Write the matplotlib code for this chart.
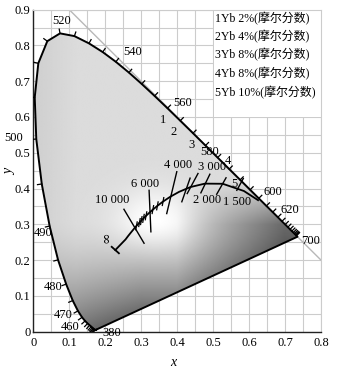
import numpy as np
import matplotlib.pyplot as plt
from matplotlib.patches import Polygon, Rectangle

plt.rcParams['font.family'] = ['Liberation Serif', 'Noto Sans CJK SC']

# CIE 1931 spectral locus, 5 nm steps
wl = list(range(380, 705, 5))
locus_x = [0.1741, 0.1740, 0.1738, 0.1736, 0.1733, 0.1730, 0.1726, 0.1721, 0.1714, 0.1703,
           0.1689, 0.1669, 0.1644, 0.1611, 0.1566, 0.1510, 0.1440, 0.1355, 0.1241, 0.1096,
           0.0913, 0.0687, 0.0454, 0.0235, 0.0082, 0.0039, 0.0139, 0.0389, 0.0743, 0.1142,
           0.1547, 0.1929, 0.2296, 0.2658, 0.3016, 0.3373, 0.3731, 0.4087, 0.4441, 0.4788,
           0.5125, 0.5448, 0.5752, 0.6029, 0.6270, 0.6482, 0.6658, 0.6801, 0.6915, 0.7006,
           0.7079, 0.7140, 0.7190, 0.7230, 0.7260, 0.7283, 0.7300, 0.7311, 0.7320, 0.7327,
           0.7334, 0.7340, 0.7344, 0.7346, 0.7347]
locus_y = [0.0050, 0.0050, 0.0049, 0.0049, 0.0048, 0.0048, 0.0048, 0.0048, 0.0051, 0.0058,
           0.0069, 0.0086, 0.0109, 0.0138, 0.0177, 0.0227, 0.0297, 0.0399, 0.0578, 0.0868,
           0.1327, 0.2007, 0.2950, 0.4127, 0.5384, 0.6548, 0.7502, 0.8120, 0.8338, 0.8262,
           0.8059, 0.7816, 0.7543, 0.7243, 0.6923, 0.6589, 0.6245, 0.5896, 0.5547, 0.5202,
           0.4866, 0.4544, 0.4242, 0.3965, 0.3725, 0.3514, 0.3340, 0.3197, 0.3083, 0.2993,
           0.2920, 0.2859, 0.2809, 0.2770, 0.2740, 0.2717, 0.2700, 0.2689, 0.2680, 0.2673,
           0.2666, 0.2660, 0.2656, 0.2654, 0.2653]

wl_labels = ['380', '460', '470', '480', '490', '500', '520', '540', '560', '580', '600', '620', '700']
wl_label_x = [0.219, 0.102, 0.083, 0.055, 0.027, -0.056, 0.080, 0.275, 0.416, 0.491, 0.667, 0.714, 0.770]
wl_label_y = [-0.004, 0.013, 0.046, 0.124, 0.275, 0.541, 0.868, 0.781, 0.639, 0.502, 0.390, 0.339, 0.253]

# Planckian locus
planck_T = [1200, 1500, 2000, 2500, 3000, 3500, 4000, 4500, 5000, 5500, 6000, 6500, 7000,
            7500, 8000, 9000, 10000, 12000, 15000, 20000, 'inf']
planck_x = [0.6251, 0.5857, 0.5267, 0.4770, 0.4369, 0.4053, 0.3805, 0.3608, 0.3451, 0.3325,
            0.3221, 0.3135, 0.3064, 0.3003, 0.2952, 0.2869, 0.2807, 0.2719, 0.2637, 0.2565, 0.2280]
planck_y = [0.3674, 0.3931, 0.4133, 0.4137, 0.4041, 0.3907, 0.3768, 0.3636, 0.3516, 0.3411,
            0.3318, 0.3237, 0.3166, 0.3103, 0.3048, 0.2956, 0.2883, 0.2776, 0.2673, 0.2577, 0.2280]

# long isotemperature lines (top end, bottom end)
iso_x0 = [0.252, 0.322, 0.399, 0.436, 0.458, 0.491, 0.536, 0.584]
iso_y0 = [0.342, 0.395, 0.447, 0.429, 0.442, 0.440, 0.430, 0.428]
iso_x1 = [0.308, 0.327, 0.371, 0.413, 0.428, 0.466, 0.510, 0.566]
iso_y1 = [0.247, 0.279, 0.330, 0.363, 0.386, 0.388, 0.384, 0.395]

# short ticks on the locus
short_T = [9000, 8000, 7500, 7000, 6500, 5500, 5000, 4500]

# end cap at infinity
cap_x = [0.218, 0.238]
cap_y = [0.237, 0.219]

temp_labels = ['10 000', '6 000', '4 000', '3 000', '2 000', '1 500']
temp_label_x = [0.218, 0.311, 0.403, 0.496, 0.482, 0.566]
temp_label_y = [0.369, 0.414, 0.467, 0.461, 0.368, 0.363]

sample_labels = ['1', '2', '3', '4', '5']
sample_x = [0.362, 0.389, 0.440, 0.540, 0.558]
sample_y = [0.591, 0.558, 0.521, 0.477, 0.412]

legend_lines = ['1Yb 2%(摩尔分数)', '2Yb 4%(摩尔分数)', '3Yb 8%(摩尔分数)',
                '4Yb 8%(摩尔分数)', '5Yb 10%(摩尔分数)']
legend_y = [0.876, 0.825, 0.775, 0.722, 0.669]

fig = plt.figure(figsize=(3.4, 3.73), dpi=100)
ax = fig.add_axes([0.098, 0.111, 0.846, 0.863])
ax.set_xlim(0, 0.8)
ax.set_ylim(0, 0.9)

# grid
ax.set_xticks(np.arange(0, 0.81, 0.1))
ax.set_yticks(np.arange(0, 0.91, 0.1))
ax.set_xticks(np.arange(0.05, 0.8, 0.1), minor=True)
ax.set_yticks(np.arange(0.05, 0.9, 0.1), minor=True)
ax.grid(True, which='both', color='#cccccc', lw=0.8, zorder=0)
ax.set_axisbelow(True)
ax.set_xticklabels(['0', '0.1', '0.2', '0.3', '0.4', '0.5', '0.6', '0.7', '0.8'])
ax.set_yticklabels(['0', '0.1', '0.2', '0.3', '0.4', '0.5', '0.6', '0.7', '0.8', '0.9'])
ax.tick_params(which='both', length=0, labelsize=9, pad=4)
ax.tick_params(axis='y', pad=2)
for s in ['top', 'right']:
    ax.spines[s].set_color('#cccccc')
for s in ['left', 'bottom']:
    ax.spines[s].set_color('#222222')
    ax.spines[s].set_linewidth(1.0)

# gray shading inside the locus: pale centre, light top, darker towards the bottom/right
gx = np.linspace(0, 0.8, 400)
gy = np.linspace(0, 0.9, 450)
X, Y = np.meshgrid(gx, gy)
d = np.hypot(X - 0.34, (Y - 0.31) / 0.8)
base = 0.86 + 0.14 * np.exp(-(d / 0.11) ** 2) - 0.05 * np.clip((0.12 - X) / 0.12, 0, 1)
low = np.clip((0.31 - Y) / 0.31, 0, 1) ** 1.5
amp = 0.3 + 0.3 * np.clip(X / 0.3, 0, 1)
rd = np.clip((X - 0.4) / 0.3, 0, 1) * np.clip((0.42 - Y) / 0.12, 0, 1)
gray = np.clip(base - amp * low - 0.45 * rd, 0, 1)
im = ax.imshow(gray, cmap='gray', vmin=0, vmax=1, extent=(0, 0.8, 0, 0.9), origin='lower',
               aspect='auto', interpolation='bilinear', zorder=1)
poly = Polygon(np.column_stack([locus_x, locus_y]), closed=True, transform=ax.transData)
im.set_clip_path(poly)

# x + y = 1 line
ax.plot([0.1, 0.8], [0.9, 0.2], color='#b8b8b8', lw=1.0, zorder=2)

# legend box
ax.add_patch(Rectangle((0.503, 0.6), 0.296, 0.299, facecolor='white', edgecolor='none', zorder=1.5))

# spectral locus
lx = np.array(locus_x + [locus_x[0]])
ly = np.array(locus_y + [locus_y[0]])
ax.plot(lx, ly, color='black', lw=1.4, zorder=4, solid_joinstyle='round')

# wavelength ticks
px = np.array(locus_x)
py = np.array(locus_y)
tx = np.gradient(px)
ty = np.gradient(py)
nrm = np.hypot(tx, ty)
for i in range(len(wl)):
    if nrm[i] < 1e-3:
        continue
    nx, ny = ty[i] / nrm[i], -tx[i] / nrm[i]
    if nx * (px[i] - 0.33) + ny * (py[i] - 0.33) < 0:
        nx, ny = -nx, -ny
    L = 0.012
    ax.plot([px[i], px[i] + nx * L], [py[i], py[i] + ny * L], color='black', lw=0.9, zorder=4)

for t, x, y in zip(wl_labels, wl_label_x, wl_label_y):
    ax.text(x, y, t, fontsize=9, ha='center', va='center', zorder=6, clip_on=False)

# Planckian locus
ax.plot(planck_x, planck_y, color='black', lw=1.3, zorder=5)
ax.plot(cap_x, cap_y, color='black', lw=1.3, zorder=5)
for x0, y0, x1, y1 in zip(iso_x0, iso_y0, iso_x1, iso_y1):
    ax.plot([x0, x1], [y0, y1], color='black', lw=1.0, zorder=5)
for T in short_T:
    k = planck_T.index(T)
    ax.plot([planck_x[k] + 0.002, planck_x[k] - 0.002], [planck_y[k] + 0.011, planck_y[k] - 0.011],
            color='black', lw=0.9, zorder=5)

for t, x, y in zip(temp_labels, temp_label_x, temp_label_y):
    ax.text(x, y, t, fontsize=9, ha='center', va='center', zorder=6)
ax.text(0.204, 0.265, '∞', fontsize=10, ha='center', va='center', rotation=90, zorder=6,
        family=['DejaVu Serif'])

for t, x, y in zip(sample_labels, sample_x, sample_y):
    ax.text(x, y, t, fontsize=9, ha='center', va='center', zorder=6)

for t, y in zip(legend_lines, legend_y):
    ax.text(0.505, y, t, fontsize=8.6, ha='left', va='center', zorder=6)

ax.text(0.486, -0.095, 'x', transform=ax.transAxes, fontsize=10, style='italic',
        ha='center', va='center')
ax.text(-0.081, 0.495, 'y', transform=ax.transAxes, fontsize=10, style='italic',
        ha='center', va='center', rotation=90)

fig.savefig('out.png', dpi=100)
